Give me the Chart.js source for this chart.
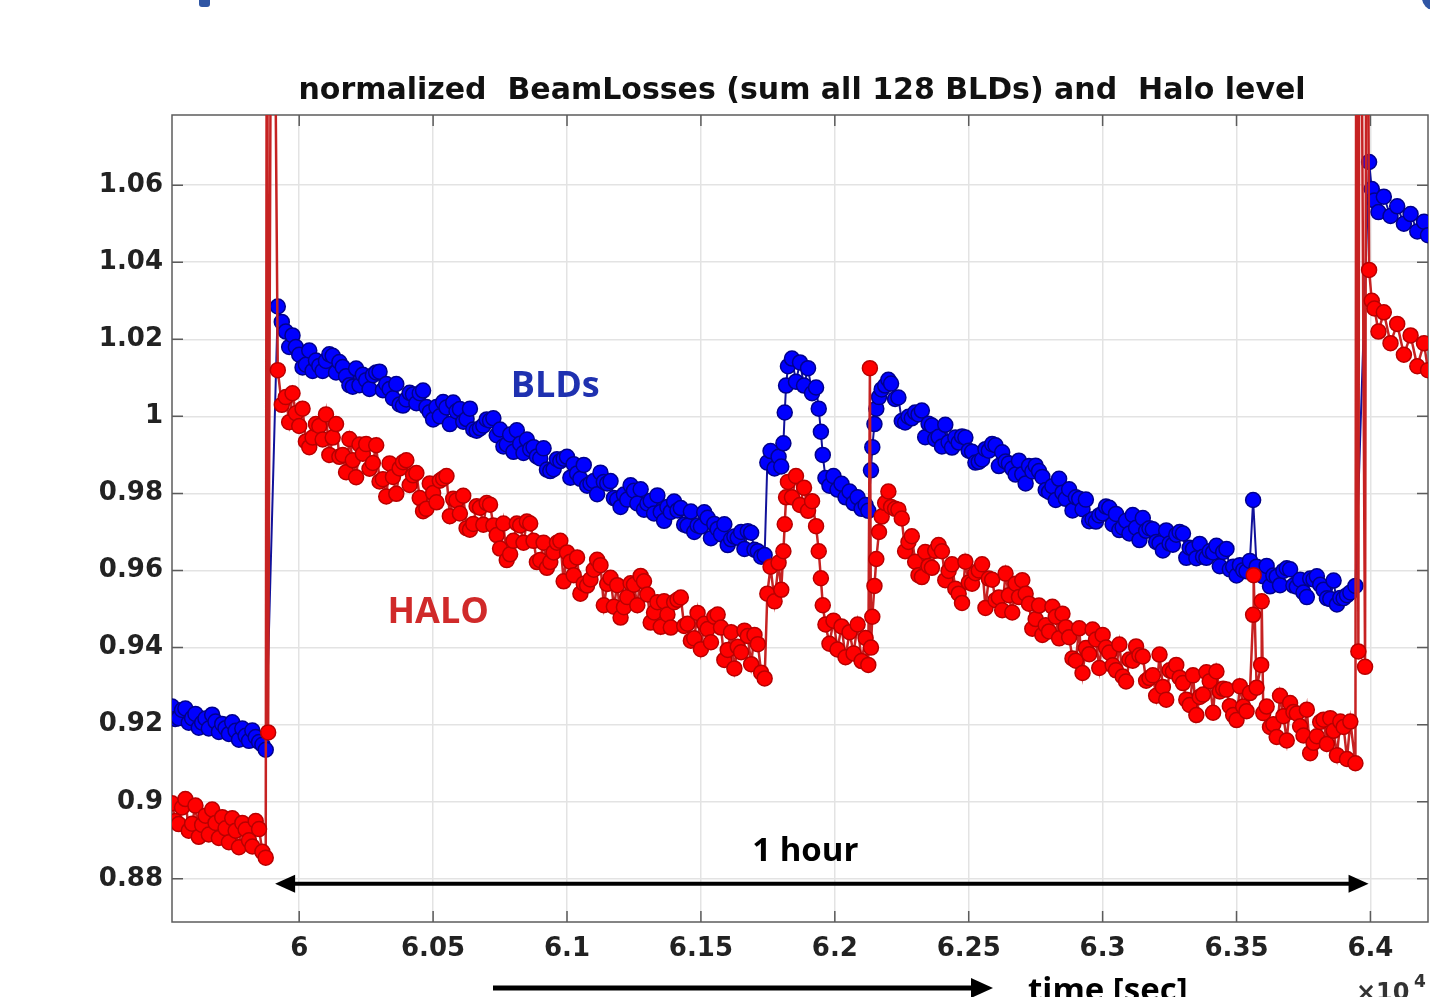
<!DOCTYPE html>
<html>
<head>
<meta charset="utf-8">
<title>normalized BeamLosses and Halo level</title>
<script src="https://cdn.jsdelivr.net/npm/chart.js@4.4.1/dist/chart.umd.min.js"></script>
<style>
  html, body { margin: 0; padding: 0; background: #fff; }
  #chart { display: block; }
</style>
</head>
<body>
<canvas id="chart" width="1430" height="997"></canvas>
<script>
// time axis in units of 1e4 sec
const timeVals = [
  5.9525, 5.95375, 5.955, 5.95625, 5.9575, 5.95875, 5.96, 5.96125, 5.9625, 5.96375,
  5.965, 5.96625, 5.9675, 5.96875, 5.97, 5.97125, 5.9725, 5.97375, 5.975, 5.97625,
  5.9775, 5.97875, 5.98, 5.98125, 5.9825, 5.98375, 5.985, 5.98625, 5.9875,
  5.988, 5.9884, 5.9899, 5.992, 5.9935,
  5.995, 5.99625, 5.9975, 5.99875, 6.0, 6.00125, 6.0025, 6.00375, 6.005, 6.00625,
  6.0075, 6.00875, 6.01, 6.01125, 6.0125, 6.01375, 6.015, 6.01625, 6.0175, 6.01875,
  6.02, 6.02125, 6.0225, 6.02375, 6.025, 6.02625, 6.0275, 6.02875, 6.03, 6.03125,
  6.0325, 6.03375, 6.035, 6.03625, 6.0375, 6.03875, 6.04, 6.04125, 6.0425, 6.04375,
  6.045, 6.04625, 6.0475, 6.04875, 6.05, 6.05125, 6.0525, 6.05375, 6.055, 6.05625,
  6.0575, 6.05875, 6.06, 6.06125, 6.0625, 6.06375, 6.065, 6.06625, 6.0675, 6.06875,
  6.07, 6.07125, 6.0725, 6.07375, 6.075, 6.07625, 6.0775, 6.07875, 6.08, 6.08125,
  6.0825, 6.08375, 6.085, 6.08625, 6.0875, 6.08875, 6.09, 6.09125, 6.0925, 6.09375,
  6.095, 6.09625, 6.0975, 6.09875, 6.1, 6.10125, 6.1025, 6.10375, 6.105, 6.10625,
  6.1075, 6.10875, 6.11, 6.11125, 6.1125, 6.11375, 6.115, 6.11625, 6.1175, 6.11875,
  6.12, 6.12125, 6.1225, 6.12375, 6.125, 6.12625, 6.1275, 6.12875, 6.13, 6.13125,
  6.1325, 6.13375, 6.135, 6.13625, 6.1375, 6.13875, 6.14, 6.14125, 6.1425, 6.14375,
  6.145, 6.14625, 6.1475, 6.14875, 6.15, 6.15125, 6.1525, 6.15375, 6.155, 6.15625,
  6.1575, 6.15875, 6.16, 6.16125, 6.1625, 6.16375, 6.165, 6.16625, 6.1675, 6.16875,
  6.17, 6.17125, 6.1725, 6.1738,
  6.1748, 6.176, 6.1775, 6.179, 6.18, 6.1808, 6.1813, 6.1818, 6.1825, 6.184,
  6.1855, 6.187, 6.1885, 6.19, 6.1915, 6.193, 6.194, 6.1948, 6.1955, 6.1965,
  6.198, 6.1995, 6.201, 6.2025, 6.204, 6.2055, 6.207, 6.2085, 6.21, 6.2115,
  6.2125, 6.2131, 6.2135, 6.214, 6.2148, 6.2155, 6.2165, 6.2175, 6.2188, 6.22,
  6.221,
  6.2225, 6.22375, 6.225, 6.22625, 6.2275, 6.22875, 6.23, 6.23125, 6.2325, 6.23375,
  6.235, 6.23625, 6.2375, 6.23875, 6.24, 6.24125, 6.2425, 6.24375, 6.245, 6.24625,
  6.2475, 6.24875, 6.25, 6.25125, 6.2525, 6.25375, 6.255, 6.25625, 6.2575, 6.25875,
  6.26, 6.26125, 6.2625, 6.26375, 6.265, 6.26625, 6.2675, 6.26875, 6.27, 6.27125,
  6.2725, 6.27375, 6.275, 6.27625, 6.2775, 6.27875, 6.28, 6.28125, 6.2825, 6.28375,
  6.285, 6.28625, 6.2875, 6.28875, 6.29, 6.29125, 6.2925, 6.29375, 6.295, 6.29625,
  6.2975, 6.29875, 6.3, 6.30125, 6.3025, 6.30375, 6.305, 6.30625, 6.3075, 6.30875,
  6.31, 6.31125, 6.3125, 6.31375, 6.315, 6.31625, 6.3175, 6.31875, 6.32, 6.32125,
  6.3225, 6.32375, 6.325, 6.32625, 6.3275, 6.32875, 6.33, 6.33125, 6.3325, 6.33375,
  6.335, 6.33625, 6.3375, 6.33875, 6.34, 6.34125, 6.3425, 6.34375, 6.345, 6.34625,
  6.3475, 6.34875, 6.35, 6.35125, 6.3525, 6.35375, 6.355,
  6.3562, 6.3564, 6.3575, 6.3592, 6.3594, 6.36,
  6.36125, 6.3625, 6.36375, 6.365, 6.36625, 6.3675, 6.36875, 6.37, 6.37125, 6.3725,
  6.37375, 6.375, 6.37625, 6.3775, 6.37875, 6.38, 6.38125, 6.3825, 6.38375, 6.385,
  6.38625, 6.3875, 6.38875, 6.39, 6.39125, 6.3925,
  6.3944, 6.3948, 6.3955, 6.396, 6.398, 6.3986,
  6.3995, 6.4005, 6.4015, 6.403, 6.405, 6.4075, 6.41, 6.4125, 6.415, 6.4175, 6.42, 6.4215
];

// normalized BLD sum (blue)
const bldVals = [
  0.9247, 0.9215, 0.9217, 0.9238, 0.9242, 0.9205, 0.9217, 0.9228, 0.9192, 0.9205,
  0.9216, 0.9190, 0.9226, 0.9208, 0.9181, 0.9202, 0.9191, 0.9176, 0.9206, 0.9184,
  0.9161, 0.9190, 0.9171, 0.9158, 0.9185, 0.9168, 0.9155, 0.9148, 0.9135,
  null, null, null, 1.0285, 1.0245,
  1.0220, 1.0180, 1.0210, 1.0180, 1.0160, 1.0127, 1.0134, 1.0171, 1.0118, 1.0145,
  1.0131, 1.0118, 1.0144, 1.0161, 1.0157, 1.0114, 1.0141, 1.0128, 1.0104, 1.0081,
  1.0077, 1.0124, 1.0081, 1.0108, 1.0094, 1.0071, 1.0107, 1.0114, 1.0116, 1.0068,
  1.0084, 1.0071, 1.0047, 1.0084, 1.0031, 1.0028, 1.0044, 1.0061, 1.0057, 1.0034,
  1.0060, 1.0067, 1.0024, 1.0011, 0.9992, 1.0024, 1.0000, 1.0037, 1.0023, 0.9980,
  1.0036, 1.0013, 1.0019, 0.9986, 0.9993, 1.0020, 0.9966, 0.9963, 0.9969, 0.9976,
  0.9992, 0.9989, 0.9995, 0.9951, 0.9966, 0.9922, 0.9927, 0.9953, 0.9908, 0.9964,
  0.9929, 0.9905, 0.9940, 0.9915, 0.9920, 0.9896, 0.9891, 0.9917, 0.9862, 0.9858,
  0.9863, 0.9889, 0.9884, 0.9890, 0.9895, 0.9841, 0.9876, 0.9852, 0.9838, 0.9874,
  0.9820, 0.9826, 0.9832, 0.9798, 0.9854, 0.9830, 0.9826, 0.9832, 0.9788, 0.9784,
  0.9765, 0.9797, 0.9784, 0.9821, 0.9807, 0.9774, 0.9811, 0.9758, 0.9774, 0.9781,
  0.9748, 0.9795, 0.9752, 0.9729, 0.9765, 0.9752, 0.9779, 0.9756, 0.9762, 0.9719,
  0.9716, 0.9753, 0.9700, 0.9717, 0.9714, 0.9751, 0.9737, 0.9684, 0.9721, 0.9708,
  0.9694, 0.9720, 0.9666, 0.9681, 0.9688, 0.9685, 0.9700, 0.9656, 0.9702, 0.9698,
  0.9654, 0.9650, 0.9636, 0.9640,
  0.9880, 0.9910, 0.9865, 0.9895, 0.9870, 0.9930, 1.0010, 1.0080, 1.0130, 1.0150,
  1.0090, 1.0140, 1.0080, 1.0125, 1.0060, 1.0075, 1.0020, 0.9960, 0.9900, 0.9840,
  0.9820, 0.9845, 0.9810, 0.9825, 0.9790, 0.9805, 0.9775, 0.9790, 0.9760, 0.9770,
  0.9755, null, 0.9860, 0.9920, 0.9980, 1.0020, 1.0050, 1.0070, 1.0080, 1.0095,
  1.0085,
  1.0045, 1.0049, 0.9988, 0.9984, 0.9999, 0.9995, 1.0010, 1.0005, 1.0015, 0.9946,
  0.9981, 0.9976, 0.9941, 0.9947, 0.9922, 0.9978, 0.9933, 0.9919, 0.9945, 0.9932,
  0.9948, 0.9945, 0.9911, 0.9908, 0.9880, 0.9882, 0.9888, 0.9915, 0.9911, 0.9928,
  0.9925, 0.9871, 0.9907, 0.9883, 0.9878, 0.9864, 0.9849, 0.9885, 0.9850, 0.9826,
  0.9871, 0.9857, 0.9872, 0.9858, 0.9843, 0.9809, 0.9804, 0.9819, 0.9783, 0.9838,
  0.9802, 0.9786, 0.9811, 0.9756, 0.9790, 0.9786, 0.9759, 0.9784, 0.9728, 0.9733,
  0.9727, 0.9743, 0.9748, 0.9766, 0.9763, 0.9720, 0.9747, 0.9705, 0.9712, 0.9729,
  0.9696, 0.9744, 0.9711, 0.9679, 0.9736, 0.9703, 0.9710, 0.9707, 0.9674, 0.9671,
  0.9652, 0.9704, 0.9670, 0.9667, 0.9693, 0.9700, 0.9696, 0.9633, 0.9659, 0.9656,
  0.9632, 0.9669, 0.9636, 0.9633, 0.9650, 0.9647, 0.9664, 0.9611, 0.9648, 0.9656,
  0.9603, 0.9610, 0.9587, 0.9614, 0.9601, 0.9598, 0.9625,
  0.9783, null, 0.9610, null, null, 0.9585,
  0.9612, 0.9559, 0.9587, 0.9584, 0.9562, 0.9599, 0.9606, 0.9603, 0.9561, 0.9558,
  0.9576, 0.9543, 0.9531, 0.9579, 0.9577, 0.9585, 0.9563, 0.9550, 0.9528, 0.9526,
  0.9574, 0.9512, 0.9529, 0.9528, 0.9536, 0.9543,
  0.9560, null, null, null, null, null,
  1.0660, 1.0590, 1.0560, 1.0530, 1.0570, 1.0520, 1.0545, 1.0500, 1.0525, 1.0480, 1.0505, 1.0470
];

// normalized halo level (red); 1.2 = spike running off the top of the axes
const haloVals = [
  0.8996, 0.8950, 0.8942, 0.8985, 0.9007, 0.8925, 0.8943, 0.8990, 0.8909, 0.8940,
  0.8964, 0.8915, 0.8980, 0.8945, 0.8906, 0.8960, 0.8931, 0.8895, 0.8957, 0.8925,
  0.8882, 0.8945, 0.8928, 0.8900, 0.8884, 0.8950, 0.8929, 0.8870, 0.8855,
  1.2, 0.9180, 1.2, 1.0120, 1.0030,
  1.0050, 0.9985, 1.0060, 1.0008, 0.9975, 1.0020, 0.9935, 0.9920, 0.9945, 0.9980,
  0.9975, 0.9940, 1.0005, 0.9900, 0.9945, 0.9980, 0.9895, 0.9900, 0.9855, 0.9941,
  0.9886, 0.9842, 0.9927, 0.9903, 0.9928, 0.9864, 0.9879, 0.9925, 0.9831, 0.9837,
  0.9792, 0.9878, 0.9843, 0.9799, 0.9865, 0.9881, 0.9886, 0.9822, 0.9847, 0.9853,
  0.9788, 0.9754, 0.9760, 0.9826, 0.9801, 0.9777, 0.9833, 0.9839, 0.9845, 0.9741,
  0.9786, 0.9782, 0.9748, 0.9794, 0.9710, 0.9706, 0.9721, 0.9767, 0.9763, 0.9719,
  0.9775, 0.9771, 0.9717, 0.9692, 0.9657, 0.9722, 0.9627, 0.9642, 0.9677, 0.9722,
  0.9717, 0.9672, 0.9727, 0.9722, 0.9677, 0.9622, 0.9627, 0.9672, 0.9607, 0.9622,
  0.9647, 0.9672, 0.9677, 0.9572, 0.9647, 0.9623, 0.9588, 0.9634, 0.9540, 0.9566,
  0.9561, 0.9577, 0.9602, 0.9628, 0.9614, 0.9510, 0.9565, 0.9581, 0.9506, 0.9562,
  0.9478, 0.9505, 0.9531, 0.9567, 0.9563, 0.9510, 0.9586, 0.9572, 0.9538, 0.9465,
  0.9491, 0.9518, 0.9454, 0.9520, 0.9486, 0.9452, 0.9518, 0.9524, 0.9530, 0.9456,
  0.9462, 0.9418, 0.9424, 0.9490, 0.9396, 0.9462, 0.9448, 0.9414, 0.9480, 0.9486,
  0.9452, 0.9368, 0.9394, 0.9440, 0.9346, 0.9402, 0.9388, 0.9444, 0.9430, 0.9357,
  0.9433, 0.9409, 0.9335, 0.9320,
  0.9540, 0.9610, 0.9520, 0.9620, 0.9550, 0.9650, 0.9720, 0.9790, 0.9830, 0.9790,
  0.9845, 0.9770, 0.9815, 0.9755, 0.9780, 0.9715, 0.9650, 0.9580, 0.9510, 0.9460,
  0.9410, 0.9470, 0.9395, 0.9455, 0.9375, 0.9440, 0.9385, 0.9460, 0.9365, 0.9425,
  0.9355, 1.0125, 0.9400, 0.9480, 0.9560, 0.9630, 0.9700, 0.9740, 0.9775, 0.9805,
  0.9765,
  0.9760, 0.9758, 0.9735, 0.9650, 0.9674, 0.9689, 0.9623, 0.9588, 0.9583, 0.9648,
  0.9612, 0.9607, 0.9651, 0.9666, 0.9650, 0.9575, 0.9599, 0.9616, 0.9553, 0.9540,
  0.9516, 0.9623, 0.9569, 0.9566, 0.9593, 0.9600, 0.9616, 0.9503, 0.9579, 0.9576,
  0.9523, 0.9530, 0.9497, 0.9592, 0.9536, 0.9491, 0.9566, 0.9531, 0.9575, 0.9540,
  0.9514, 0.9449, 0.9474, 0.9509, 0.9433, 0.9458, 0.9442, 0.9506, 0.9480, 0.9424,
  0.9488, 0.9453, 0.9427, 0.9372, 0.9366, 0.9450, 0.9334, 0.9399, 0.9383, 0.9447,
  0.9421, 0.9347, 0.9433, 0.9400, 0.9387, 0.9354, 0.9341, 0.9408, 0.9325, 0.9312,
  0.9369, 0.9366, 0.9403, 0.9380, 0.9377, 0.9314, 0.9321, 0.9328, 0.9275, 0.9382,
  0.9298, 0.9265, 0.9341, 0.9338, 0.9355, 0.9322, 0.9308, 0.9265, 0.9251, 0.9328,
  0.9225, 0.9272, 0.9278, 0.9336, 0.9313, 0.9231, 0.9338, 0.9286, 0.9293, 0.9291,
  0.9248, 0.9225, 0.9212, 0.9300, 0.9247, 0.9235, 0.9282,
  0.9485, 0.9588, 0.9296, 0.9355, 0.9520, 0.9230,
  0.9247, 0.9194, 0.9201, 0.9168, 0.9275, 0.9222, 0.9159, 0.9256, 0.9233, 0.9229,
  0.9196, 0.9172, 0.9239, 0.9126, 0.9153, 0.9170, 0.9207, 0.9213, 0.9150, 0.9217,
  0.9184, 0.9121, 0.9208, 0.9194, 0.9111, 0.9208,
  0.9100, 1.2, 0.9390, 1.2, 0.9350, 1.2,
  1.0380, 1.0300, 1.0280, 1.0220, 1.0270, 1.0190, 1.0240, 1.0160, 1.0210, 1.0130, 1.0190, 1.0120
];

const xTicks = [6, 6.05, 6.1, 6.15, 6.2, 6.25, 6.3, 6.35, 6.4];
const yTicks = [0.88, 0.9, 0.92, 0.94, 0.96, 0.98, 1, 1.02, 1.04, 1.06];
const titleText = 'normalized  BeamLosses (sum all 128 BLDs) and  Halo level';

const toPoints = vals => timeVals.map((t, i) => ({ x: t, y: vals[i] }));
const fmt = v => String(+v.toFixed(2));

function arrowHead(ctx, x, y, dir, len, half) {
  ctx.beginPath();
  ctx.moveTo(x, y);
  ctx.lineTo(x - dir * len, y - half);
  ctx.lineTo(x - dir * len, y + half);
  ctx.closePath();
  ctx.fill();
}

const overlay = {
  id: 'overlay',
  beforeDatasetsDraw(chart) {
    const { ctx, chartArea: a, scales } = chart;
    ctx.save();
    ctx.strokeStyle = '#5c5c5c';
    ctx.lineWidth = 1.5;
    ctx.strokeRect(a.left, a.top, a.right - a.left, a.bottom - a.top);
    ctx.beginPath();
    xTicks.forEach(v => {
      const px = scales.x.getPixelForValue(v);
      ctx.moveTo(px, a.bottom); ctx.lineTo(px, a.bottom - 11);
      ctx.moveTo(px, a.top); ctx.lineTo(px, a.top + 11);
    });
    yTicks.forEach(v => {
      const py = scales.y.getPixelForValue(v);
      ctx.moveTo(a.left, py); ctx.lineTo(a.left + 11, py);
      ctx.moveTo(a.right, py); ctx.lineTo(a.right - 11, py);
    });
    ctx.stroke();
    ctx.restore();
  },
  afterDraw(chart) {
    const { ctx, chartArea: a, scales: { x, y } } = chart;
    ctx.save();

    // bits of the slide heading cut off at the top
    ctx.fillStyle = '#2f55a4';
    ctx.beginPath();
    ctx.roundRect(199, -6, 11, 13, 3);
    ctx.fill();
    ctx.beginPath();
    ctx.arc(1434, -2, 12, 0, Math.PI * 2);
    ctx.fill();

    ctx.fillStyle = '#111';
    ctx.textAlign = 'center';
    ctx.textBaseline = 'middle';
    ctx.font = "bold 30px 'DejaVu Sans'";
    ctx.fillText(titleText, (a.left + a.right) / 2 + 2, 91);

    ctx.font = "bold 36px 'Open Sans'";
    ctx.fillStyle = '#1f31b0';
    ctx.fillText('BLDs', x.getPixelForValue(6.0956), y.getPixelForValue(1.0076));
    ctx.fillStyle = '#d02a2a';
    ctx.fillText('HALO', x.getPixelForValue(6.0519), y.getPixelForValue(0.949));

    ctx.fillStyle = '#000';
    ctx.font = "bold 33px 'Open Sans'";
    ctx.fillText('1 hour', x.getPixelForValue(6.189), y.getPixelForValue(0.887));

    // one hour double arrow
    const ay = y.getPixelForValue(0.8787);
    const ax0 = x.getPixelForValue(5.991), ax1 = x.getPixelForValue(6.3993);
    ctx.strokeStyle = '#000';
    ctx.lineWidth = 4;
    ctx.beginPath();
    ctx.moveTo(ax0 + 14, ay); ctx.lineTo(ax1 - 14, ay);
    ctx.stroke();
    arrowHead(ctx, ax0, ay, -1, 20, 9);
    arrowHead(ctx, ax1, ay, 1, 20, 9);

    // time arrow below the axis
    ctx.lineWidth = 5;
    ctx.beginPath();
    ctx.moveTo(493, 988); ctx.lineTo(975, 988);
    ctx.stroke();
    arrowHead(ctx, 993, 988, 1, 22, 10);

    ctx.textAlign = 'left';
    ctx.textBaseline = 'top';
    ctx.font = "bold 33px 'Open Sans'";
    ctx.fillText('time [sec]', 1028, 975);

    ctx.fillStyle = '#333';
    ctx.font = "bold 24px 'DejaVu Sans'";
    ctx.fillText('\u00d710', 1356, 982);
    ctx.font = "bold 17px 'DejaVu Sans'";
    ctx.fillText('4', 1414, 974);

    ctx.restore();
  }
};

const tickFont = { family: 'DejaVu Sans', size: 26, weight: 'bold' };

new Chart(document.getElementById('chart').getContext('2d'), {
  type: 'scatter',
  data: {
    datasets: [
      {
        label: 'HALO',
        data: toPoints(haloVals),
        showLine: true,
        borderColor: '#c62222',
        borderWidth: 2.5,
        pointRadius: 7.5,
        pointBorderWidth: 1.5,
        pointBackgroundColor: '#ff0000',
        pointBorderColor: '#b80000',
        order: 0
      },
      {
        label: 'BLDs',
        data: toPoints(bldVals),
        showLine: true,
        spanGaps: true,
        borderColor: '#12129a',
        borderWidth: 2,
        pointRadius: 7.5,
        pointBorderWidth: 1.5,
        pointBackgroundColor: '#0000ff',
        pointBorderColor: '#00008c',
        order: 1
      }
    ]
  },
  options: {
    responsive: false,
    animation: false,
    devicePixelRatio: 1,
    layout: { autoPadding: false, padding: { top: 115, right: 2, left: 0, bottom: 0 } },
    plugins: {
      legend: { display: false },
      tooltip: { enabled: false },
      title: { display: false }
    },
    scales: {
      x: {
        type: 'linear',
        min: 5.9525,
        max: 6.4215,
        afterBuildTicks: s => { s.ticks = xTicks.map(v => ({ value: v })); },
        afterFit: s => { s.height = 75; s.paddingLeft = 0; s.paddingRight = 0; },
        grid: { color: '#e3e3e3', lineWidth: 1.5, drawTicks: false },
        border: { display: false },
        ticks: { font: tickFont, color: '#222', padding: 12, maxRotation: 0, callback: fmt }
      },
      y: {
        min: 0.8688,
        max: 1.0782,
        afterBuildTicks: s => { s.ticks = yTicks.map(v => ({ value: v })); },
        afterFit: s => { s.width = 172; s.paddingTop = 0; s.paddingBottom = 0; },
        grid: { color: '#e3e3e3', lineWidth: 1.5, drawTicks: false },
        border: { display: false },
        ticks: { font: tickFont, color: '#222', padding: 9, callback: fmt }
      }
    }
  },
  plugins: [overlay]
});
</script>
</body>
</html>
